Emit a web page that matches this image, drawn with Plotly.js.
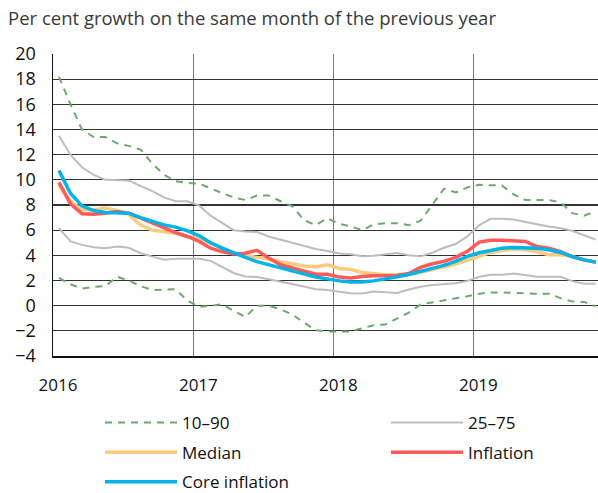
<!DOCTYPE html>
<html>
<head>
<meta charset="utf-8">
<script src="https://cdn.plot.ly/plotly-3.0.1.min.js"></script>
<style>html,body{margin:0;padding:0;background:#fff;}#chart{width:598px;height:493px;}</style>
</head>
<body>
<div id="chart"></div>
<script>
var months = ["2016-01","2016-02","2016-03","2016-04","2016-05","2016-06","2016-07","2016-08","2016-09","2016-10","2016-11","2016-12",
"2017-01","2017-02","2017-03","2017-04","2017-05","2017-06","2017-07","2017-08","2017-09","2017-10","2017-11","2017-12",
"2018-01","2018-02","2018-03","2018-04","2018-05","2018-06","2018-07","2018-08","2018-09","2018-10","2018-11","2018-12",
"2019-01","2019-02","2019-03","2019-04","2019-05","2019-06","2019-07","2019-08","2019-09","2019-10","2019-11"];

var p90 = [18.2,16.0,14.0,13.4,13.4,12.9,12.7,12.4,11.3,10.4,9.9,9.75,
9.7,9.3,8.95,8.6,8.4,8.75,8.75,8.3,7.9,6.8,6.4,6.95,
6.5,6.3,6.0,6.45,6.55,6.55,6.4,6.75,8.0,9.3,9.0,9.4,
9.6,9.55,9.55,8.85,8.4,8.4,8.4,8.2,7.35,7.15,7.5];
var p10 = [2.2,1.7,1.35,1.5,1.55,2.3,2.0,1.55,1.25,1.3,1.3,0.4,
-0.1,0.0,0.1,-0.4,-0.9,0.0,0.0,-0.3,-0.7,-1.35,-1.95,-2.05,
-2.05,-2.05,-1.8,-1.55,-1.5,-1.05,-0.55,0.1,0.25,0.45,0.6,0.75,
0.95,1.05,1.05,1.0,1.0,0.95,0.95,0.6,0.33,0.3,-0.05];
var p75 = [13.5,12.0,11.0,10.4,10.0,9.95,9.95,9.5,9.1,8.6,8.3,8.3,
7.95,7.15,6.6,6.0,5.9,5.85,5.5,5.25,4.97,4.7,4.5,4.35,
4.15,4.08,3.92,3.97,4.08,4.19,4.0,3.92,4.2,4.6,4.9,5.5,
6.4,6.9,6.9,6.85,6.65,6.45,6.3,6.15,5.95,5.6,5.25];
var p25 = [6.16,5.1,4.83,4.65,4.57,4.7,4.6,4.17,3.9,3.65,3.72,3.7,
3.72,3.56,3.1,2.6,2.32,2.27,2.1,1.92,1.74,1.53,1.3,1.25,
1.1,0.99,0.96,1.12,1.07,1.0,1.28,1.5,1.65,1.7,1.78,1.97,
2.3,2.45,2.45,2.55,2.45,2.3,2.3,2.3,1.95,1.75,1.75];
var median = [9.6,8.3,7.6,7.6,7.75,7.56,7.25,6.4,6.0,5.9,5.76,5.5,
5.28,4.97,4.57,4.23,3.96,3.85,3.7,3.5,3.32,3.16,3.1,3.25,
2.96,2.88,2.64,2.53,2.45,2.45,2.5,2.65,2.85,3.05,3.3,3.6,
3.9,4.23,4.38,4.5,4.44,4.3,4.04,4.04,3.9,3.64,3.46];
var inflation = [9.8,8.1,7.3,7.27,7.35,7.48,7.35,6.95,6.55,6.16,5.8,5.5,
5.1,4.57,4.3,4.1,4.17,4.4,3.78,3.25,2.98,2.72,2.5,2.5,
2.27,2.19,2.32,2.37,2.4,2.4,2.56,3.04,3.33,3.52,3.84,4.32,
5.05,5.2,5.2,5.15,5.1,4.7,4.57,4.3,3.9,3.64,3.46];
var core = [10.74,8.94,7.93,7.56,7.4,7.4,7.35,7.0,6.7,6.42,6.24,5.95,
5.55,5.0,4.57,4.17,3.83,3.5,3.25,2.98,2.72,2.45,2.27,2.13,
1.97,1.89,1.89,1.97,2.1,2.29,2.48,2.69,2.96,3.2,3.52,3.92,
4.2,4.38,4.57,4.62,4.62,4.57,4.44,4.23,3.9,3.64,3.46];

var FONT = "Open Sans, sans-serif";
var green = "#6caa6c", gray = "#bdbdbd", orange = "#ffc97e", red = "#ff5a5a", blue = "#00b3e8";

function tr(y, name, color, width, dash, legend, group, show) {
  return {x: months, y: y, name: name, type: "scatter", mode: "lines",
    xperiod: "M1", xperiodalignment: "middle",
    line: {color: color, width: width, dash: dash || "solid"},
    legend: legend, legendgroup: group, showlegend: show, hoverinfo: "skip"};
}

var data = [
  tr(p90, "10–90", green, 2, "7px,6px", "legend", "g1", true),
  tr(p10, "10–90", green, 2, "7px,6px", "legend", "g1", false),
  tr(p75, "25–75", gray, 2, null, "legend2", "g2", true),
  tr(p25, "25–75", gray, 2, null, "legend2", "g2", false),
  tr(median, "Median", orange, 3.5, null, "legend", "g3", true),
  tr(inflation, "Inflation", red, 3.5, null, "legend2", "g4", true),
  tr(core, "Core inflation", blue, 3.5, null, "legend", "g5", true)
];

var legBase = {orientation: "v", xanchor: "left", yanchor: "top", bgcolor: "rgba(0,0,0,0)",
  font: {family: FONT, size: 17, color: "#111"}, itemwidth: 72, tracegroupgap: 4.5, traceorder: "grouped"};

var layout = {
  width: 598, height: 493,
  margin: {l: 53, r: 0, t: 54, b: 137, autoexpand: false},
  paper_bgcolor: "#fff", plot_bgcolor: "#fff",
  font: {family: FONT, color: "#111"},
  title: {text: "Per cent growth on the same month of the previous year", font: {family: FONT, size: 18.5, color: "#3a3a3a"},
    x: 8/598, xref: "container", xanchor: "left", y: 1 - 19/493, yref: "container", yanchor: "middle"},
  xaxis: {type: "date", range: ["2016-01-01", "2019-11-22"], dtick: "M12", tick0: "2016-01-01", tickformat: "%Y",
    showgrid: true, gridcolor: "#7a7a7a", gridwidth: 1.5, showline: true, linecolor: "#111", linewidth: 1.5,
    ticks: "", tickfont: {family: FONT, size: 17, color: "#111"}, ticklabelshift: 5, ticklabelstandoff: 13, zeroline: false,
    fixedrange: true, automargin: false},
  yaxis: {range: [-4, 20], dtick: 2, tick0: 0, showgrid: true, gridcolor: "#333", gridwidth: 1.3,
    showline: true, linecolor: "#111", linewidth: 1.5, ticks: "", zeroline: false,
    tickfont: {family: FONT, size: 18, color: "#111"}, ticklabelstandoff: 12, fixedrange: true, automargin: false},
  legend: Object.assign({}, legBase, {x: (100-53)/545, y: (356-405)/302}),
  legend2: Object.assign({}, legBase, {x: (386-53)/545, y: (356-405)/302}),
  showlegend: true
};

Plotly.newPlot("chart", data, layout, {displayModeBar: false, staticPlot: true});
</script>
</body>
</html>
